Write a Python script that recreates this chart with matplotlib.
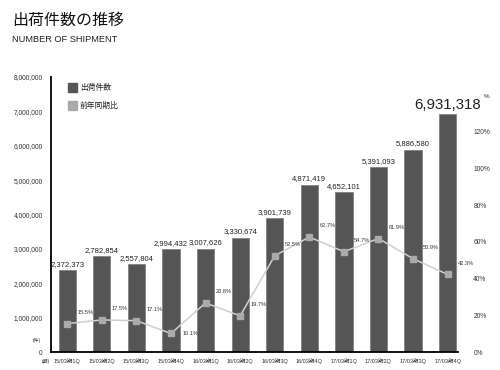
import matplotlib
matplotlib.use('Agg')
import matplotlib.pyplot as plt

plt.rcParams['font.family'] = ['Liberation Sans', 'Noto Sans CJK JP', 'DejaVu Sans']

# データ
quarters = ['15/03期1Q', '15/03期2Q', '15/03期3Q', '15/03期4Q',
            '16/03期1Q', '16/03期2Q', '16/03期3Q', '16/03期4Q',
            '17/03期1Q', '17/03期2Q', '17/03期3Q', '17/03期4Q']
shipments = [2372373, 2782854, 2557804, 2994432, 3007626, 3330674,
             3901739, 4871419, 4652101, 5391093, 5886580, 6931318]
yoy = [15.5, 17.5, 17.1, 10.1, 26.8, 19.7, 52.5, 62.7, 54.7, 61.9, 50.9, 42.3]
yticks_left = [0, 1000000, 2000000, 3000000, 4000000, 5000000, 6000000, 7000000, 8000000]
yticks_right = [0, 20, 40, 60, 80, 100, 120]

bar_color = '#555555'
line_color = '#d0d0d0'
marker_color = '#aaaaaa'

fig = plt.figure(figsize=(5.0, 3.7), dpi=100)
ax = fig.add_axes([0.102, 0.0486, 0.814, 0.7434])
x = list(range(len(quarters)))

ax.bar(x, shipments, width=0.5, color=bar_color, edgecolor='#7a7a7a', linewidth=0.5, zorder=2)
ax.set_xlim(-0.47, 11.3)
ax.set_ylim(0, 8000000)
ax.set_yticks(yticks_left)
ax.set_yticklabels(['{:,}'.format(v) for v in yticks_left], fontsize=4.8, color='#333333')
ax.set_xticks(x)
ax.set_xticklabels(quarters, fontsize=4, color='#333333')
ax.tick_params(axis='y', length=0, pad=6)
ax.tick_params(axis='x', length=0, pad=4)
for s in ['top', 'right']:
    ax.spines[s].set_visible(False)
ax.spines['left'].set_linewidth(1.3)
ax.spines['bottom'].set_linewidth(1.3)

# 棒グラフの値
for i, v in enumerate(shipments):
    fs = 10.8 if i == len(shipments) - 1 else 5.5
    ax.annotate('{:,}'.format(v), (i, v), xytext=(0, 1.5), textcoords='offset points',
                ha='center', va='bottom', fontsize=fs, color='#222222')

# 前年同期比
ax2 = ax.twinx()
ax2.plot(x, yoy, color=line_color, linewidth=1.1, marker='s', markersize=5,
         markerfacecolor=marker_color, markeredgecolor=marker_color, zorder=3)
ax2.set_ylim(0, 150)
ax2.set_yticks(yticks_right)
ax2.set_yticklabels(['{}%'.format(v) for v in yticks_right], fontsize=4.8, color='#333333')
ax2.tick_params(axis='y', length=0, pad=11)
for s in ['top', 'right', 'left', 'bottom']:
    ax2.spines[s].set_visible(False)

offsets = [(13, 8)] * len(yoy)
offsets[3] = (14, 0)
for i, v in enumerate(yoy):
    ax2.annotate('{}%'.format(v), (i, v), xytext=offsets[i], textcoords='offset points',
                 ha='center', va='center', fontsize=4.1, color='#333333')

# 凡例
fig.patches.append(plt.Rectangle((68 / 500, 1 - 92 / 370), 9 / 500, 9 / 370,
                                 transform=fig.transFigure, color=bar_color))
fig.patches.append(plt.Rectangle((68 / 500, 1 - 110 / 370), 9 / 500, 9 / 370,
                                 transform=fig.transFigure, color=marker_color))
fig.text(80 / 500, 1 - 88 / 370, '出荷件数', fontsize=5.6, va='center', color='#222222')
fig.text(80 / 500, 1 - 106 / 370, '前年同期比', fontsize=5.6, va='center', color='#222222')

# タイトル
fig.text(12 / 500, 1 - 20 / 370, '出荷件数の推移', fontsize=11.5, va='center', color='#111111')
fig.text(12 / 500, 1 - 40 / 370, 'NUMBER OF SHIPMENT', fontsize=6.7, va='center', color='#222222')

fig.text(487 / 500, 1 - 96 / 370, '%', fontsize=4.5, ha='center', va='center', color='#333333')
fig.text(37 / 500, 1 - 340 / 370, '(件)', fontsize=3.5, ha='center', va='center', color='#333333')
fig.text(46 / 500, 1 - 361 / 370, '(期)', fontsize=3.5, ha='center', va='center', color='#333333')

fig.savefig('out.png', dpi=100)
